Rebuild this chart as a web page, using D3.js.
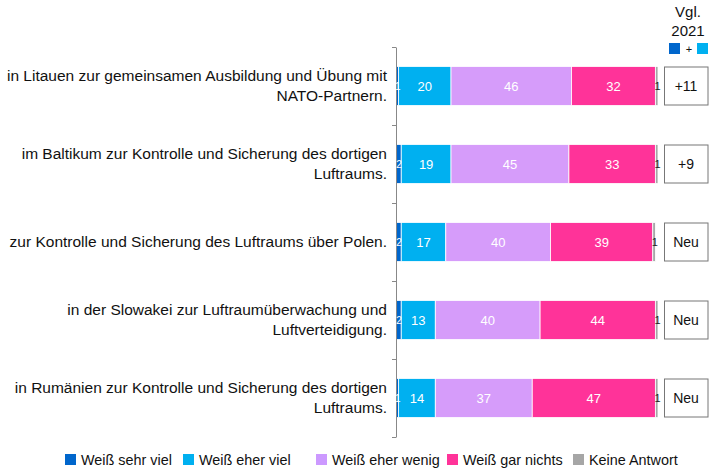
<!DOCTYPE html>
<html><head><meta charset="utf-8">
<script src="https://cdn.jsdelivr.net/npm/d3@7"></script>
<style>body{margin:0;background:#fff}svg{display:block;font-family:"Liberation Sans",Arial,sans-serif}</style>
</head><body><svg id="c" width="709" height="469"></svg>
<script>
const categories = [
  ["in Litauen zur gemeinsamen Ausbildung und Übung mit", "NATO-Partnern."],
  ["im Baltikum zur Kontrolle und Sicherung des dortigen", "Luftraums."],
  ["zur Kontrolle und Sicherung des Luftraums über Polen."],
  ["in der Slowakei zur Luftraumüberwachung und", "Luftverteidigung."],
  ["in Rumänien zur Kontrolle und Sicherung des dortigen", "Luftraums."]
];
const seriesNames = ["Weiß sehr viel", "Weiß eher viel", "Weiß eher wenig", "Weiß gar nichts", "Keine Antwort"];
const sehrViel = [1, 2, 2, 2, 1];
const eherViel = [20, 19, 17, 13, 14];
const eherWenig = [46, 45, 40, 40, 37];
const garNichts = [32, 33, 39, 44, 47];
const keineAntwort = [1, 1, 1, 1, 1];
const vgl2021 = ["+11", "+9", "Neu", "Neu", "Neu"];
const headerLines = ["Vgl.", "2021"];
const colors = ["#0066CC", "#00B0F0", "#D69CFA", "#FF3399", "#A6A6A6"];

const keys = ["s0", "s1", "s2", "s3", "s4"];
const table = categories.map((c, i) => ({
  idx: i, s0: sehrViel[i], s1: eherViel[i], s2: eherWenig[i], s3: garNichts[i], s4: keineAntwort[i]
}));

const svg = d3.select("#c");
const x = d3.scaleLinear().domain([0, 100]).range([396, 658]);
const y = d3.scaleBand().domain(d3.range(categories.length)).range([47, 437]).paddingInner(0.5).paddingOuter(0.25);
const yAxisScale = d3.scaleLinear().domain([0, categories.length]).range([47, 437]);

const stack = d3.stack().keys(keys)(table);

// bars
const layers = svg.append("g").selectAll("g").data(stack).join("g").attr("fill", (d, i) => colors[i]);
layers.selectAll("rect").data(d => d).join("rect")
  .attr("x", d => x(d[0]))
  .attr("width", d => x(d[1]) - x(d[0]))
  .attr("y", d => y(d.data.idx))
  .attr("height", y.bandwidth())
  .attr("stroke", "#fff").attr("stroke-width", 0.8);

// axis
const ax = svg.append("g").attr("transform", `translate(${x(0)},0)`)
  .call(d3.axisLeft(yAxisScale).ticks(categories.length).tickSize(4).tickSizeOuter(0).tickFormat(""));
ax.select(".domain").attr("stroke", "#888");
ax.selectAll(".tick line").attr("stroke", "#888");

// value labels
stack.forEach((layer, li) => {
  const g = svg.append("g");
  layer.forEach(d => {
    const v = d[1] - d[0];
    const cy = y(d.data.idx) + y.bandwidth() / 2;
    if (li === 0) {
      g.append("text").attr("x", (x(d[0]) + x(d[1])) / 2 + 0.5).attr("y", cy).attr("dy", "0.36em")
        .attr("text-anchor", "middle").attr("font-size", 10).attr("fill", "#fff").text(v);
    } else if (li === 4) {
      g.append("text").attr("x", x(d[1]) - 0.5).attr("y", cy).attr("dy", "0.36em")
        .attr("text-anchor", "middle").attr("font-size", 11).attr("fill", "#222").text(v);
    } else {
      g.append("text").attr("x", (x(d[0]) + x(d[1])) / 2).attr("y", cy).attr("dy", "0.36em")
        .attr("text-anchor", "middle").attr("font-size", 13).attr("fill", "#fff").text(v);
    }
  });
});

// category labels
const cl = svg.append("g").attr("font-size", 15.5).attr("fill", "#111").attr("text-anchor", "end");
categories.forEach((lines, i) => {
  const cy = y(i) + y.bandwidth() / 2;
  const lh = 19.5;
  const start = cy + 5 - (lines.length - 1) * lh / 2;
  lines.forEach((t, j) => {
    cl.append("text").attr("x", 387).attr("y", start + j * lh).text(t);
  });
});

// comparison boxes
const bx = svg.append("g");
vgl2021.forEach((t, i) => {
  bx.append("rect").attr("x", 664.5).attr("y", y(i) + 0.5).attr("width", 43.5).attr("height", y.bandwidth() - 1)
    .attr("fill", "#fff").attr("stroke", "#777").attr("stroke-width", 1);
  bx.append("text").attr("x", 686).attr("y", y(i) + y.bandwidth() / 2).attr("dy", "0.36em")
    .attr("text-anchor", "middle").attr("font-size", 14).attr("fill", "#111").text(t);
});

// header
const hd = svg.append("g").attr("text-anchor", "middle").attr("font-size", 15).attr("fill", "#111");
headerLines.forEach((t, j) => hd.append("text").attr("x", 688).attr("y", 17 + j * 19).text(t));
svg.append("rect").attr("x", 669).attr("y", 43).attr("width", 11).attr("height", 11).attr("fill", colors[0]);
svg.append("text").attr("x", 689).attr("y", 53).attr("text-anchor", "middle").attr("font-size", 11).attr("fill", "#111").text("+");
svg.append("rect").attr("x", 697).attr("y", 43).attr("width", 11).attr("height", 11).attr("fill", colors[1]);

// legend
const legX = [65, 183, 316, 447, 573];
const lg = svg.append("g").attr("font-size", 14.4).attr("fill", "#111");
seriesNames.forEach((n, i) => {
  lg.append("rect").attr("x", legX[i]).attr("y", 454).attr("width", 11).attr("height", 11).attr("fill", i === 2 ? "#CC99FF" : colors[i]);
  lg.append("text").attr("x", legX[i] + 16).attr("y", 464.5).text(n);
});
</script></body></html>
